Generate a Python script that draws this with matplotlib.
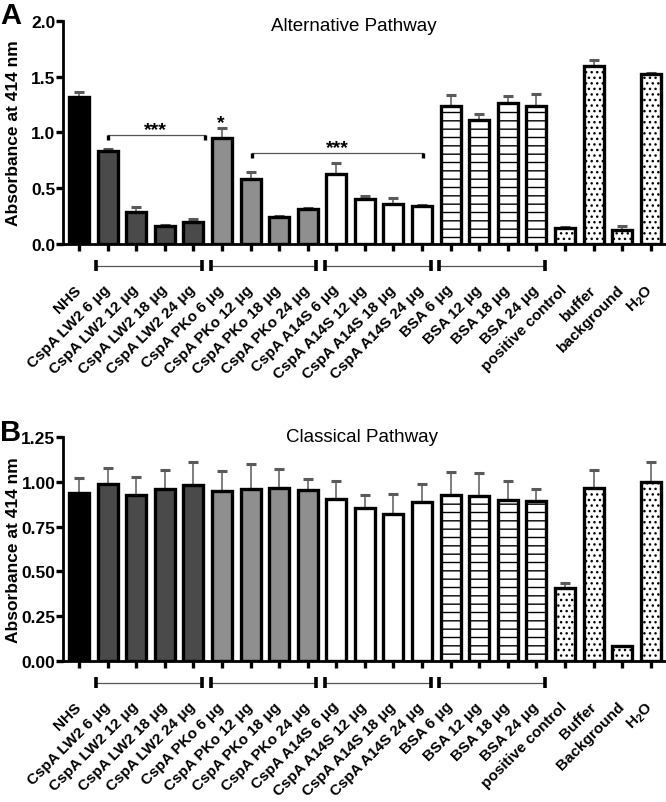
import numpy as np
import matplotlib
matplotlib.use("Agg")
import matplotlib.pyplot as plt
import matplotlib.transforms as mtransforms

plt.rcParams['font.family'] = ['Liberation Sans', 'DejaVu Sans']
plt.rcParams['mathtext.fontset'] = 'custom'
plt.rcParams['mathtext.rm'] = 'Liberation Sans'
plt.rcParams['mathtext.bf'] = 'Liberation Sans:bold'
plt.rcParams['hatch.linewidth'] = 1.0

# ---------------- data ----------------
labels_A = ['NHS', 'CspA LW2 6 μg', 'CspA LW2 12 μg', 'CspA LW2 18 μg', 'CspA LW2 24 μg',
            'CspA PKo 6 μg', 'CspA PKo 12 μg', 'CspA PKo 18 μg', 'CspA PKo 24 μg',
            'CspA A14S 6 μg', 'CspA A14S 12 μg', 'CspA A14S 18 μg', 'CspA A14S 24 μg',
            'BSA 6 μg', 'BSA 12 μg', 'BSA 18 μg', 'BSA 24 μg',
            'positive control', 'buffer', 'background', r'$\mathbf{H_2O}$']
labels_B = ['NHS', 'CspA LW2 6 μg', 'CspA LW2 12 μg', 'CspA LW2 18 μg', 'CspA LW2 24 μg',
            'CspA PKo 6 μg', 'CspA PKo 12 μg', 'CspA PKo 18 μg', 'CspA PKo 24 μg',
            'CspA A14S 6 μg', 'CspA A14S 12 μg', 'CspA A14S 18 μg', 'CspA A14S 24 μg',
            'BSA 6 μg', 'BSA 12 μg', 'BSA 18 μg', 'BSA 24 μg',
            'positive control', 'Buffer', 'Background', r'$\mathbf{H_2O}$']

values_A = [1.32, 0.83, 0.29, 0.16, 0.20, 0.95, 0.58, 0.24, 0.31,
            0.63, 0.40, 0.36, 0.34, 1.24, 1.11, 1.265, 1.235,
            0.146, 1.60, 0.128, 1.525]
errors_A = [0.04, 0.02, 0.04, 0.01, 0.02, 0.09, 0.07, 0.01, 0.01,
            0.10, 0.03, 0.05, 0.01, 0.10, 0.06, 0.06, 0.11,
            0.005, 0.05, 0.03, 0.01]

values_B = [0.94, 0.986, 0.926, 0.958, 0.98, 0.949, 0.962, 0.964, 0.954,
            0.904, 0.854, 0.822, 0.889, 0.926, 0.919, 0.897, 0.893,
            0.406, 0.965, 0.085, 1.0]
errors_B = [0.08, 0.09, 0.10, 0.11, 0.13, 0.11, 0.14, 0.11, 0.06,
            0.10, 0.07, 0.11, 0.10, 0.13, 0.13, 0.11, 0.065,
            0.03, 0.10, 0.0, 0.11]

# group membership (for style)
groups = ['NHS'] + ['LW2'] * 4 + ['PKo'] * 4 + ['A14S'] * 4 + ['BSA'] * 4 + ['CTRL'] * 4
group_face = {'NHS': '#000000', 'LW2': '#4a4a4a', 'PKo': '#8f8f8f',
              'A14S': '#ffffff', 'BSA': '#ffffff', 'CTRL': '#ffffff'}
group_hatch = {'NHS': None, 'LW2': None, 'PKo': None, 'A14S': None,
               'BSA': '--', 'CTRL': '...'}

# group spans drawn below x axis (first, last bar index)
group_spans = [(1, 4), (5, 8), (9, 12), (13, 16)]

fig = plt.figure(figsize=(6.66, 8.03), dpi=100)
axA = fig.add_axes([0.0946, 0.6949, 0.904, 0.2777])
axB = fig.add_axes([0.0946, 0.1756, 0.904, 0.2789])


def draw_panel(ax, labels, values, errors, ylim, yticks, yfmt):
    x = np.arange(len(values))
    for i in x:
        g = groups[i]
        ax.bar(x[i], values[i], width=0.7, color=group_face[g], edgecolor='black',
               linewidth=2.4, hatch=group_hatch[g], zorder=3)
    err = np.array(errors)
    mask = err > 0
    xe = x[mask]
    ye = np.array(values)[mask]
    ee = err[mask]
    _, caps, bars = ax.errorbar(xe, ye, yerr=[np.zeros_like(ee), ee], fmt='none',
                                ecolor='#5a5a5a', elinewidth=1.1, capsize=3.3,
                                capthick=2.2, zorder=2)
    for c in caps:
        c.set_color('black')
    ax.set_xlim(-0.56, 20.5)
    ax.set_ylim(*ylim)
    ax.set_yticks(yticks)
    ax.set_yticklabels([yfmt.format(v) for v in yticks], fontsize=12.5, fontweight='bold')
    ax.set_xticks(x)
    ax.set_xticklabels(labels, rotation=45, ha='right', va='center',
                       rotation_mode='anchor', fontsize=11, fontweight='bold')
    ax.tick_params(axis='x', length=5, width=2.4, pad=26)
    ax.tick_params(axis='y', length=5, width=2.4, pad=0.5)
    for s in ['top', 'right']:
        ax.spines[s].set_visible(False)
    for s in ['left', 'bottom']:
        ax.spines[s].set_linewidth(2.0)
    ax.set_ylabel('Absorbance at 414 nm', fontsize=12.5, fontweight='bold')
    trans = mtransforms.blended_transform_factory(ax.transData, ax.transAxes)
    yg = -0.097
    for a, b in group_spans:
        x0, x1 = a - 0.4, b + 0.3
        ax.plot([x0, x1], [yg, yg], color='#555555', lw=0.9, transform=trans, clip_on=False)
        for xx in (x0, x1):
            ax.plot([xx, xx], [yg - 0.024, yg + 0.024], color='black', lw=2.6,
                    transform=trans, clip_on=False, solid_capstyle='butt')


draw_panel(axA, labels_A, values_A, errors_A, (0, 2.0), [0.0, 0.5, 1.0, 1.5, 2.0], '{:.1f}')
draw_panel(axB, labels_B, values_B, errors_B, (0, 1.25), [0.0, 0.25, 0.5, 0.75, 1.0, 1.25], '{:.2f}')

axA.yaxis.set_label_coords(-0.07, 0.5)
axB.yaxis.set_label_coords(-0.07, 0.5)

# titles
axA.text(0.483, 0.978, 'Alternative Pathway', transform=axA.transAxes, ha='center',
         va='center', fontsize=13.5)
axB.text(0.497, 1.004, 'Classical Pathway', transform=axB.transAxes, ha='center',
         va='center', fontsize=13.5)

# significance brackets (panel A)
def bracket(ax, x0, x1, y, dy, text, xt, yt):
    ax.plot([x0, x1], [y, y], color='#555555', lw=0.9, zorder=4)
    for xx in (x0, x1):
        ax.plot([xx, xx], [y, y - dy], color='black', lw=2.4, zorder=4,
                solid_capstyle='butt')
    ax.text(xt, yt, text, ha='center', va='center', fontsize=14, fontweight='bold')

bracket(axA, 1.0, 4.4, 0.978, 0.045, '***', 2.66, 1.03)
bracket(axA, 6.05, 12.03, 0.816, 0.045, '***', 9.04, 0.865)
axA.text(4.96, 1.085, '*', ha='center', va='center', fontsize=14, fontweight='bold')

# panel letters
fig.text(0.0, 0.980, 'A', fontsize=21, fontweight='bold', ha='left', va='center')
fig.text(0.0, 0.461, 'B', fontsize=21, fontweight='bold', ha='left', va='center')

fig.savefig('out.png', dpi=100)
